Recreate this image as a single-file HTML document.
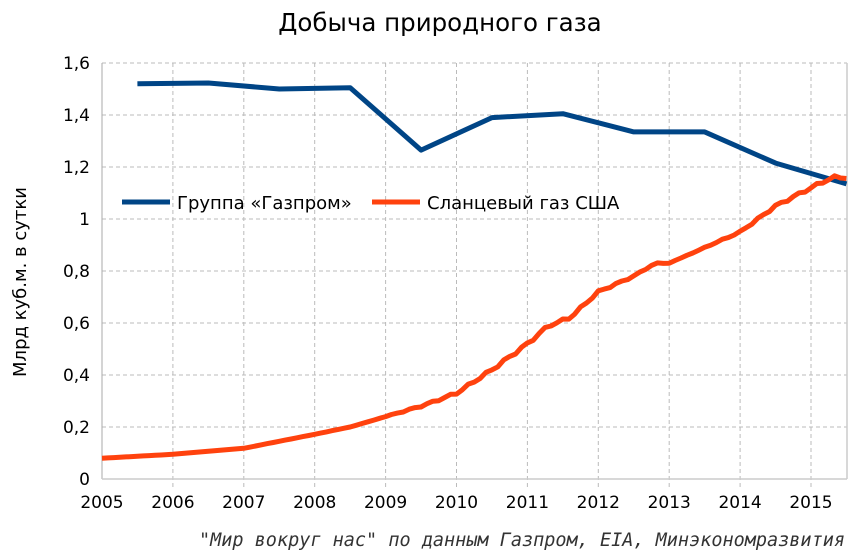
<!DOCTYPE html>
<html><head><meta charset="utf-8"><style>body{margin:0;background:#fff}svg{display:block}</style></head>
<body>
<svg id="s" width="863" height="558" xmlns="http://www.w3.org/2000/svg" font-family="'DejaVu Sans','Liberation Sans',sans-serif">
<rect width="863" height="558" fill="#fff"/>
<text x="440" y="31" font-size="24.5" text-anchor="middle" fill="#000">Добыча природного газа</text>
<g id="grid" stroke="#bbb" stroke-width="1" stroke-dasharray="4,3"></g>
<line x1="102" y1="63" x2="102" y2="479" stroke="#aaa"/>
<line x1="102" y1="479" x2="847" y2="479" stroke="#ccc" stroke-width="1.5"/>
<line x1="847" y1="63" x2="847" y2="479" stroke="#ccc" stroke-width="1.5"/>
<g id="lab" font-size="17" fill="#000"></g>
<text transform="translate(26,282) rotate(-90)" font-size="18" text-anchor="middle">Млрд куб.м. в сутки</text>
<polyline id="gz" fill="none" stroke="#004586" stroke-width="5" stroke-linejoin="round"/>
<polyline id="sh" fill="none" stroke="#ff420e" stroke-width="5" stroke-linejoin="round"/>
<line x1="122" y1="202" x2="170" y2="202" stroke="#004586" stroke-width="5"/>
<text x="177" y="209" font-size="18">Группа «Газпром»</text>
<line x1="372" y1="202" x2="420" y2="202" stroke="#ff420e" stroke-width="5"/>
<text x="427" y="209" font-size="18">Сланцевый газ США</text>
<text x="845" y="546" font-size="18.5" font-style="italic" fill="#333" text-anchor="end" font-family="'DejaVu Sans Mono','Liberation Mono',monospace">"Мир вокруг нас" по данным Газпром, EIA, Минэкономразвития</text>
</svg>
<script>
var X=function(y){return 102+(y-2005)*70.9},Y=function(v){return 479-v*260};
var g=document.getElementById('grid'),l=document.getElementById('lab'),ns='http://www.w3.org/2000/svg';
function el(p,t,a,txt){var e=document.createElementNS(ns,t);for(var k in a)e.setAttribute(k,a[k]);if(txt)e.textContent=txt;p.appendChild(e);}
for(var i=1;i<=8;i++){var y=Y(i*0.2);el(g,'line',{x1:102,x2:847,y1:y,y2:y});}
for(var i=0;i<=8;i++){var v=i*0.2,s=(i==0?'0':i==5?'1':v.toFixed(1).replace('.',','));el(l,'text',{x:90,y:Y(v)+6,'text-anchor':'end'},s);}
for(var yr=2005;yr<=2015;yr++){var x=X(yr);if(yr>2005)el(g,'line',{x1:x,x2:x,y1:63,y2:488});el(l,'text',{x:x,y:508,'text-anchor':'middle'},''+yr);}
var gz=[[2005.5,1.52],[2006.5,1.523],[2007.5,1.50],[2008.5,1.505],[2009.5,1.265],[2010.5,1.39],[2011.5,1.405],[2012.5,1.335],[2013.5,1.335],[2014.5,1.215],[2015.5,1.135]];
document.getElementById('gz').setAttribute('points',gz.map(function(p){return X(p[0]).toFixed(1)+','+Y(p[1]).toFixed(1)}).join(' '));
var k=[[2005,0.08],[2006,0.095],[2007,0.118],[2007.5,0.145],[2008,0.172],[2008.5,0.2],[2009,0.24],[2009.5,0.28],[2010,0.33],[2010.5,0.42],[2011,0.52],[2011.3,0.59],[2011.6,0.62],[2012,0.72],[2012.5,0.78],[2012.8,0.83],[2013,0.83],[2013.5,0.89],[2014,0.95],[2014.5,1.05],[2015,1.12],[2015.3,1.16],[2015.5,1.16]];
var pts=[];
for(var t=2005;t<=2015.5001;t+=1/12){var j=0;while(j<k.length-2&&k[j+1][0]<t)j++;var a=k[j],b=k[j+1],f=(t-a[0])/(b[0]-a[0]);var v=a[1]+f*(b[1]-a[1])+(t>2009?(Math.sin(t*23)+Math.sin(t*51))*0.003:0);pts.push(X(t).toFixed(1)+','+Y(v).toFixed(1));}
document.getElementById('sh').setAttribute('points',pts.join(' '));
</script>
</body></html>
